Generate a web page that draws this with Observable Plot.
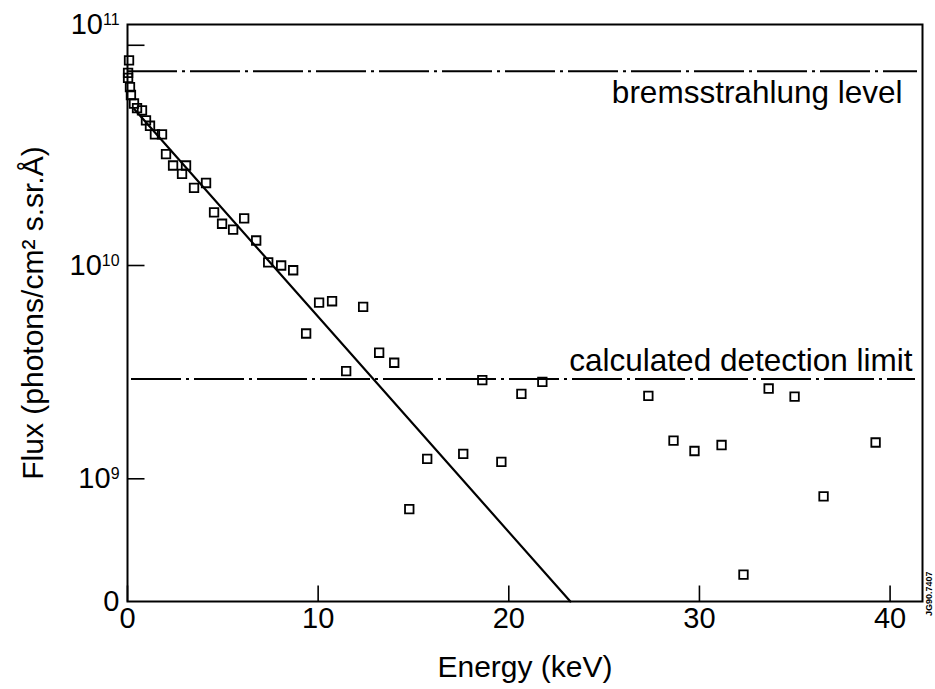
<!DOCTYPE html>
<html>
<head>
<meta charset="utf-8">
<script src="https://cdn.jsdelivr.net/npm/d3@7"></script>
<script src="https://cdn.jsdelivr.net/npm/@observablehq/plot@0.6"></script>
<style>
  html, body { margin: 0; padding: 0; background: white; }
</style>
</head>
<body>
<div id="chart"></div>
<script>
// ---- data ----
const energy = [0.08, 0.03, 0.03, 0.13, 0.18, 0.34, 0.50, 0.76, 0.97, 1.18, 1.44, 1.81, 2.02, 2.39, 2.86, 3.07, 3.49, 4.12, 4.54, 4.96, 5.54, 6.12, 6.75, 7.38, 8.06, 8.69, 10.05, 10.73, 12.36, 9.37, 13.20, 13.99, 11.47, 18.61, 21.76, 20.66, 15.72, 17.61, 19.61, 14.78, 27.32, 33.63, 34.99, 28.64, 29.74, 31.16, 39.24, 36.51, 32.31];
const flux = [7.1e10, 6.3e10, 6.0e10, 5.5e10, 5.1e10, 4.7e10, 4.5e10, 4.4e10, 4.0e10, 3.8e10, 3.5e10, 3.5e10, 2.9e10, 2.6e10, 2.4e10, 2.6e10, 2.1e10, 2.2e10, 1.66e10, 1.49e10, 1.41e10, 1.57e10, 1.27e10, 1.03e10, 1.0e10, 9.5e9, 6.7e9, 6.8e9, 6.4e9, 4.8e9, 3.9e9, 3.5e9, 3.2e9, 2.9e9, 2.85e9, 2.5e9, 1.24e9, 1.31e9, 1.20e9, 7.1e8, 2.45e9, 2.65e9, 2.43e9, 1.51e9, 1.35e9, 1.44e9, 1.48e9, 8.2e8, 3.4e8];

const axisBottomValue = 10 ** 8.4;            // the value drawn at the "0" of the axis
const fitEnergy = [0.35, 23.23];
const fitFlux = [4.46e10, axisBottomValue];

const bremsstrahlungLevel = 6.4e10;
const detectionLimit = 2.94e9;

const xTicks = [0, 10, 20, 30, 40];
const yTickValues = [axisBottomValue, 1e9, 1e10, 1e11];
const yTickLabels = ["0", "10^9", "10^10", "10^11"];
const yTickMarks = [1e9, 1e10, 8.2e10];

const xTitle = "Energy (keV)";
const yTitle = "Flux (photons/cm\u00B2 s.sr.\u00C5)";
const bremsLabel = "bremsstrahlung level";
const detectLabel = "calculated detection limit";
const figureCode = "JG90.7407";

// ---- table ----
const points = energy.map((e, i) => ({energy: e, flux: flux[i]}));
const fit = fitEnergy.map((e, i) => ({energy: e, flux: fitFlux[i]}));

const hTick = {draw(ctx) { ctx.moveTo(0, 0); ctx.lineTo(17, 0); }};
const vTick = {draw(ctx) { ctx.moveTo(0, 0); ctx.lineTo(0, -16); }};

const font = "'Liberation Sans', Arial, Helvetica, sans-serif";

const chart = Plot.plot({
  width: 935,
  height: 689,
  marginTop: 24,
  marginRight: 13,
  marginBottom: 88,
  marginLeft: 127,
  style: {fontFamily: font, fontSize: "29px", color: "black", background: "white", overflow: "visible"},
  x: {domain: [0, 41.7]},
  y: {type: "log", domain: yTickValues, range: [601, 478.3, 265, 24]},
  marks: [
    Plot.ruleY([bremsstrahlungLevel], {stroke: "black", strokeWidth: 2, strokeDasharray: "50,5,3,5", insetRight: 5}),
    Plot.ruleY([detectionLimit], {stroke: "black", strokeWidth: 2, strokeDasharray: "50,5,3,5", insetLeft: 4, insetRight: 7}),
    Plot.line(fit, {x: "energy", y: "flux", stroke: "black", strokeWidth: 2.2}),
    Plot.dot(points, {x: "energy", y: "flux", symbol: "square", r: 4.8, fill: "none", stroke: "black", strokeWidth: 1.8}),
    Plot.frame({stroke: "black", strokeWidth: 2}),
    Plot.dot(xTicks, {x: d => d, frameAnchor: "bottom", symbol: vTick, fill: "none", stroke: "black", strokeWidth: 1.6}),
    Plot.dot(yTickMarks, {y: d => d, frameAnchor: "left", symbol: hTick, fill: "none", stroke: "black", strokeWidth: 1.6}),
    Plot.axisX({ticks: xTicks, tickSize: 0, tickPadding: 6, fontSize: 29,
      label: xTitle, labelAnchor: "center", labelOffset: 75, labelArrow: "none"}),
    Plot.axisY({ticks: yTickValues, tickSize: 0, tickPadding: 8, fontSize: 29,
      tickFormat: d => yTickLabels[yTickValues.indexOf(d)],
      label: yTitle, labelAnchor: "center", labelOffset: 106, labelArrow: "none"}),
    Plot.text([bremsLabel], {text: d => d, y: () => bremsstrahlungLevel, frameAnchor: "right", textAnchor: "end", dx: -20, dy: 22, fontSize: 31.5}),
    Plot.text([detectLabel], {text: d => d, y: () => detectionLimit, frameAnchor: "right", textAnchor: "end", dx: -10, dy: -18, fontSize: 31.5}),
    Plot.text([figureCode], {text: d => d, frameAnchor: "bottom-right", dx: 9, dy: -30, rotate: -90, fontSize: 9, fontWeight: "bold"})
  ]
});

document.getElementById("chart").appendChild(chart);

// superscript exponents on the y tick labels
d3.select(chart).selectAll("g[aria-label='y-axis tick label'] text").each(function () {
  const t = this.textContent;
  if (t.includes("^")) {
    const [base, exp] = t.split("^");
    const sel = d3.select(this);
    sel.text(base);
    sel.append("tspan").attr("dy", "-0.55em").attr("font-size", "0.55em").text(exp);
  }
});
// axis titles size
d3.select(chart).selectAll("g[aria-label='x-axis label'] text").attr("font-size", 30);
d3.select(chart).selectAll("g[aria-label='y-axis label'] text").attr("font-size", 30);
</script>
</body>
</html>
